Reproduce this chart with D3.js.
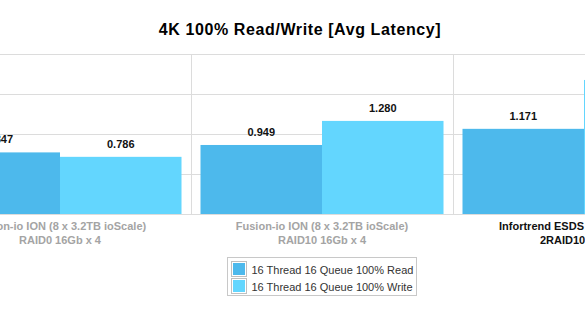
<!DOCTYPE html>
<html>
<head>
<meta charset="utf-8">
<script src="https://cdn.jsdelivr.net/npm/d3@7"></script>
<style>
  body { margin: 0; background: #fff; }
  text { font-family: "Liberation Sans", Arial, Helvetica, sans-serif; }
</style>
</head>
<body>
<div id="chart"></div>
<script>
/* Data */
const categories = [
    ["Fusion-io ION (8 x 3.2TB ioScale)", "RAID0 16Gb x 4"],
    ["Fusion-io ION (8 x 3.2TB ioScale)", "RAID10 16Gb x 4"],
    ["Infortrend ESDS 3024 (24 x SSD)", "2RAID10 8Gb x 2"]
];
const seriesNames = ["16 Thread 16 Queue 100% Read", "16 Thread 16 Queue 100% Write"];
const readValues = [0.847, 0.949, 1.171];
const writeValues = [0.786, 1.280, 1.843];
const gridTicks = [0, 0.55, 1.1, 1.65, 2.2];

const colors = ["#4db9ec", "#63d6fe"];

/* Size */
const width = 585, height = 319;
const plotTop = 54, plotBottom = 214;

const svg = d3.select("#chart").append("svg")
    .attr("width", width)
    .attr("height", height);

/* Scales - the plot is wider than the window, we only see the middle */
const x = d3.scaleBand()
    .domain(d3.range(categories.length))
    .range([-71, 715])
    .padding(0);

const xs = d3.scaleBand()
    .domain([0, 1])
    .range([9.5, x.bandwidth() - 9.5]);

const y = d3.scaleLinear()
    .domain([0, 2.2])
    .range([plotBottom, plotTop]);

/* Title */
svg.append("text")
    .attr("x", 300)
    .attr("y", 35)
    .attr("text-anchor", "middle")
    .style("font-size", "16px")
    .style("font-weight", "bold")
    .style("letter-spacing", "0.6px")
    .text("4K 100% Read/Write [Avg Latency]");

/* Grid */
svg.selectAll("line.h")
    .data(gridTicks)
    .enter().append("line")
    .attr("class", "h")
    .attr("x1", x.range()[0]).attr("x2", x.range()[1])
    .attr("y1", d => Math.round(y(d)) + 0.5)
    .attr("y2", d => Math.round(y(d)) + 0.5)
    .style("stroke", "#dcdcdc");

svg.selectAll("line.v")
    .data(d3.range(categories.length + 1))
    .enter().append("line")
    .attr("class", "v")
    .attr("x1", d => x.range()[0] + d * x.bandwidth() + 0.5)
    .attr("x2", d => x.range()[0] + d * x.bandwidth() + 0.5)
    .attr("y1", plotTop).attr("y2", plotBottom)
    .style("stroke", "#dcdcdc");

/* Bars */
const rows = categories.map((c, i) => [readValues[i], writeValues[i]]);

const groups = svg.selectAll("g.group")
    .data(rows)
    .enter().append("g")
    .attr("class", "group")
    .attr("transform", (d, i) => "translate(" + x(i) + ",0)");

groups.selectAll("rect")
    .data(d => d)
    .enter().append("rect")
    .attr("x", (d, j) => xs(j))
    .attr("width", xs.bandwidth())
    .attr("y", d => y(d))
    .attr("height", d => y(0) - y(d))
    .style("fill", (d, j) => colors[j]);

groups.selectAll("text.val")
    .data(d => d)
    .enter().append("text")
    .attr("class", "val")
    .attr("x", (d, j) => xs(j) + xs.bandwidth() / 2)
    .attr("y", d => y(d) - 9)
    .attr("text-anchor", "middle")
    .style("font-size", "11px")
    .style("font-weight", "bold")
    .style("fill", "#111")
    .text(d => d.toFixed(3));

/* Category labels */
const labels = svg.selectAll("text.cat")
    .data(categories)
    .enter().append("text")
    .attr("class", "cat")
    .attr("text-anchor", "middle")
    .style("font-size", "11px")
    .style("font-weight", "bold")
    .style("fill", (d, i) => i == categories.length - 1 ? "#111" : "#a4a4a4");

labels.selectAll("tspan")
    .data((d, i) => d.map(t => ({ t: t, i: i })))
    .enter().append("tspan")
    .attr("x", d => x(d.i) + x.bandwidth() / 2)
    .attr("y", (d, k) => 230 + k * 13.5)
    .text(d => d.t);

/* Legend */
const legend = svg.append("g").attr("transform", "translate(227.5,257.5)");
legend.append("rect")
    .attr("width", 189).attr("height", 38)
    .style("fill", "#fff")
    .style("stroke", "#c8c8c8");

const items = legend.selectAll("g.item")
    .data(seriesNames)
    .enter().append("g")
    .attr("class", "item")
    .attr("transform", (d, i) => "translate(4," + (4 + i * 17) + ")");

items.append("rect")
    .attr("width", 15).attr("height", 15)
    .style("fill", "#fff")
    .style("stroke", "#c0c0c0");
items.append("rect")
    .attr("x", 1.5).attr("y", 1.5)
    .attr("width", 12).attr("height", 12)
    .style("fill", (d, i) => colors[i]);
items.append("text")
    .attr("x", 20)
    .attr("y", 12)
    .style("font-size", "11px")
    .style("fill", "#333")
    .text(d => d);
</script>
</body>
</html>
